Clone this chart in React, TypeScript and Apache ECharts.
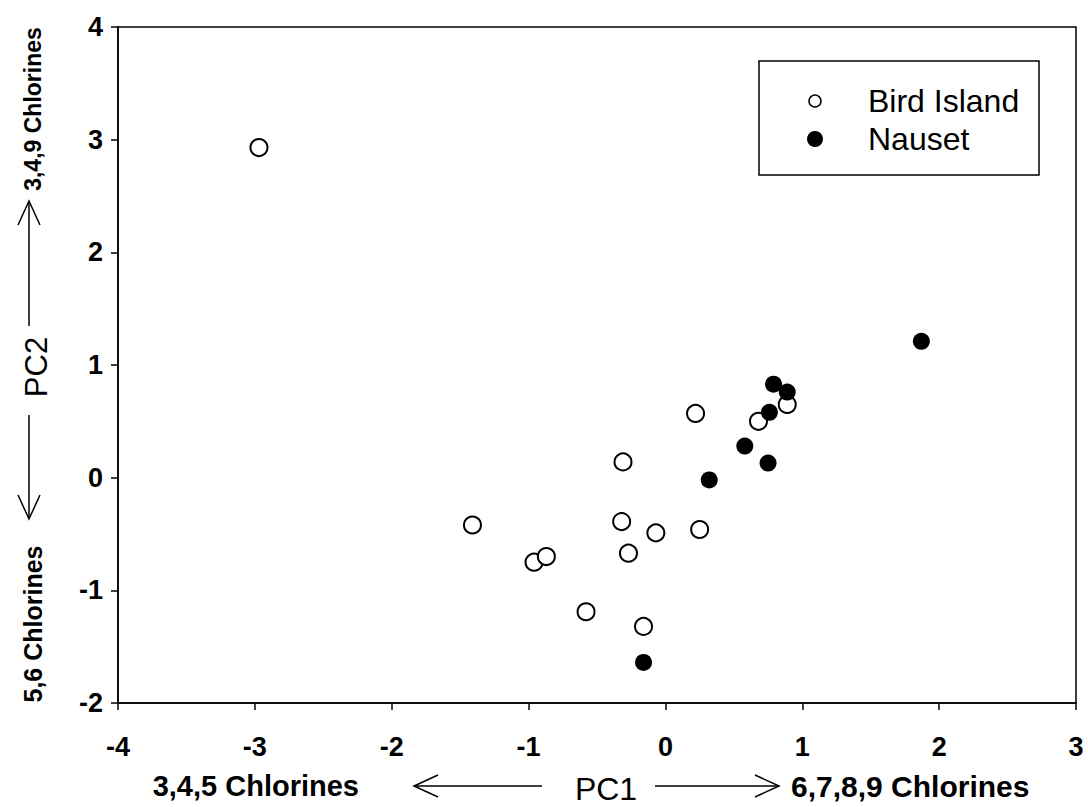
import React, { useEffect, useRef } from "react";
import * as echarts from "echarts";

// PC1, PC2 scores
const birdIsland: [number, number][] = [
  [-2.97, 2.93],
  [-1.41, -0.42],
  [-0.96, -0.75],
  [-0.87, -0.7],
  [-0.58, -1.19],
  [-0.16, -1.32],
  [-0.31, 0.14],
  [-0.32, -0.39],
  [-0.27, -0.67],
  [-0.07, -0.49],
  [0.25, -0.46],
  [0.22, 0.57],
  [0.68, 0.5],
  [0.89, 0.65],
];
const nauset: [number, number][] = [
  [-0.16, -1.64],
  [0.32, -0.02],
  [0.58, 0.28],
  [0.75, 0.13],
  [0.76, 0.58],
  [0.79, 0.83],
  [0.89, 0.76],
  [1.87, 1.21],
];
const seriesNames = ["Bird Island", "Nauset"];
const xRange = [-4, 3];
const yRange = [-2, 4];
const xTitle = ["3,4,5 Chlorines", "PC1", "6,7,8,9 Chlorines"];
const yTitle = ["5,6 Chlorines", "PC2", "3,4,9 Chlorines"];

const FONT = '"Liberation Sans", Arial, Helvetica, sans-serif';

export default function App() {
  const ref = useRef<HTMLDivElement>(null);
  useEffect(() => {
    document.body.style.margin = "0";
    const chart = echarts.init(ref.current!, null, { renderer: "svg" });
    const ls = { stroke: "#000", lineWidth: 1.5 };
    const arrow = (x1: number, y1: number, x2: number, y2: number) => {
      const dx = x2 - x1;
      const dy = y2 - y1;
      const len = Math.hypot(dx, dy);
      const ux = dx / len;
      const uy = dy / len;
      const hl = 24;
      const hw = 11;
      const bx = x2 - ux * hl;
      const by = y2 - uy * hl;
      return [
        { type: "line", shape: { x1, y1, x2, y2 }, style: ls },
        {
          type: "polyline",
          shape: {
            points: [
              [bx - uy * hw, by + ux * hw],
              [x2, y2],
              [bx + uy * hw, by - ux * hw],
            ],
          },
          style: { ...ls, fill: null },
        },
      ];
    };
    const txt = (
      x: number,
      y: number,
      text: string,
      size: number,
      bold: boolean,
      align: string,
      rot = 0
    ) => ({
      type: "text",
      x,
      y,
      rotation: rot,
      style: {
        text,
        fill: "#000",
        font: `${bold ? "bold " : ""}${size}px ${FONT}`,
        textAlign: align,
        textVerticalAlign: "middle",
      },
    });

    const axisCommon = {
      type: "value",
      interval: 1,
      axisLine: { show: true, onZero: false, lineStyle: { color: "#000", width: 1.5 } },
      axisTick: { show: true, inside: false, length: 7, lineStyle: { color: "#000", width: 1.5 } },
      splitLine: { show: false },
    };

    chart.setOption({
      animation: false,
      backgroundColor: "#fff",
      grid: {
        left: 118,
        top: 27,
        width: 958,
        height: 676,
        show: true,
        borderColor: "#000",
        borderWidth: 1.5,
        backgroundColor: "transparent",
      },
      xAxis: {
        ...axisCommon,
        min: xRange[0],
        max: xRange[1],
        axisLabel: { color: "#000", fontSize: 27, fontWeight: "bold", fontFamily: FONT, margin: 30 },
      },
      yAxis: {
        ...axisCommon,
        min: yRange[0],
        max: yRange[1],
        axisLabel: { color: "#000", fontSize: 27, fontWeight: "bold", fontFamily: FONT, margin: 15 },
      },
      series: [
        {
          name: seriesNames[0],
          type: "scatter",
          data: birdIsland,
          symbol: "circle",
          symbolSize: 17,
          itemStyle: { color: "#fff", borderColor: "#000", borderWidth: 2, opacity: 1 },
          emphasis: { disabled: true },
        },
        {
          name: seriesNames[1],
          type: "scatter",
          data: nauset,
          symbol: "circle",
          symbolSize: 17,
          itemStyle: { color: "#000", borderColor: "#000", borderWidth: 0, opacity: 1 },
          emphasis: { disabled: true },
        },
      ],
      graphic: [
        // legend box
        {
          type: "rect",
          shape: { x: 759, y: 61, width: 280, height: 114 },
          style: { fill: "#fff", stroke: "#000", lineWidth: 1.5 },
        },
        { type: "circle", shape: { cx: 815, cy: 101, r: 6 }, style: { fill: "#fff", stroke: "#000", lineWidth: 1.5 } },
        { type: "circle", shape: { cx: 815, cy: 139, r: 8 }, style: { fill: "#000" } },
        txt(868, 101, seriesNames[0], 32, false, "left"),
        txt(868, 139, seriesNames[1], 32, false, "left"),
        // x axis annotation
        txt(359, 786, xTitle[0], 29, true, "right"),
        ...arrow(542, 786, 414, 786),
        txt(606, 789, xTitle[1], 32, false, "center"),
        ...arrow(655, 786, 779, 786),
        txt(791, 786, xTitle[2], 30, true, "left"),
        // y axis annotation
        txt(33, 624, yTitle[0], 25, true, "center", Math.PI / 2),
        ...arrow(29, 415, 29, 519),
        txt(36, 367, yTitle[1], 31, false, "center", Math.PI / 2),
        ...arrow(29, 326, 29, 201),
        txt(33, 109, yTitle[2], 23, true, "center", Math.PI / 2),
      ],
    });
    return () => chart.dispose();
  }, []);
  return <div ref={ref} style={{ width: 1088, height: 807 }} />;
}
